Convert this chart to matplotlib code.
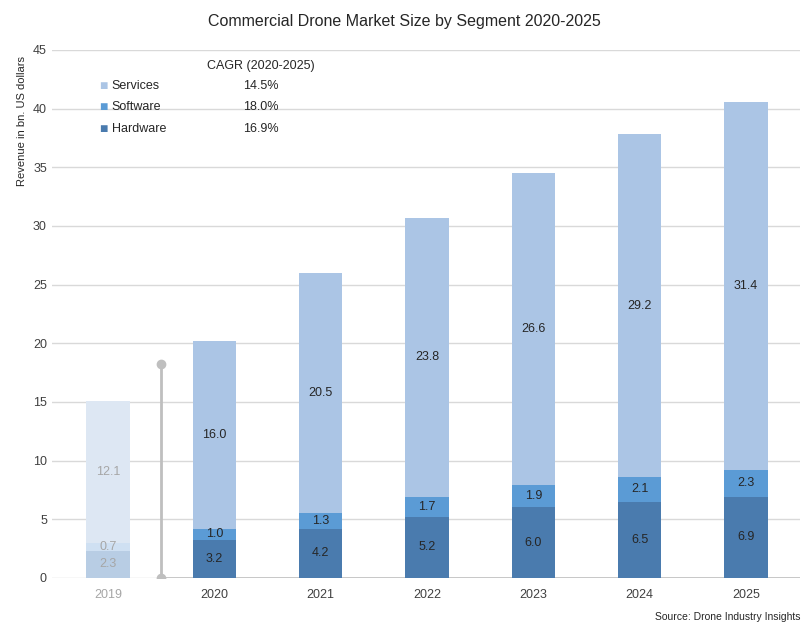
import numpy as np
import matplotlib
matplotlib.use("Agg")
import matplotlib.pyplot as plt

plt.rcParams['font.family'] = ['Liberation Sans', 'DejaVu Sans']

# datos
years = ["2019", "2020", "2021", "2022", "2023", "2024", "2025"]
hardware = [2.3, 3.2, 4.2, 5.2, 6.0, 6.5, 6.9]
software = [0.7, 1.0, 1.3, 1.7, 1.9, 2.1, 2.3]
services = [12.1, 16.0, 20.5, 23.8, 26.6, 29.2, 31.4]
segments = ["Services", "Software", "Hardware"]
cagr = ["14.5%", "18.0%", "16.9%"]

col_hw = "#4a7bae"
col_sw = "#5b9bd5"
col_sv = "#abc5e5"
faded = {"Hardware": "#b8cde4", "Software": "#cfe0f2", "Services": "#dde7f3"}
seg_cols = {"Services": col_sv, "Software": col_sw, "Hardware": col_hw}

fig = plt.figure(figsize=(8.09, 6.24), dpi=100)
ax = fig.add_axes([0.064, 0.074, 0.925, 0.846])

x = np.arange(len(years))
w = 0.41
hw = np.array(hardware)
sw = np.array(software)
sv = np.array(services)

for i in range(len(years)):
    if i == 0:
        c1, c2, c3 = faded["Hardware"], faded["Software"], faded["Services"]
        tc = "#a6a6a6"
    else:
        c1, c2, c3 = col_hw, col_sw, col_sv
        tc = "#262626"
    ax.bar(x[i], hw[i], w, color=c1, zorder=3)
    ax.bar(x[i], sw[i], w, bottom=hw[i], color=c2, zorder=3)
    ax.bar(x[i], sv[i], w, bottom=hw[i] + sw[i], color=c3, zorder=3)
    ax.text(x[i], hw[i] / 2, f"{hw[i]:.1f}", ha='center', va='center', fontsize=9, color=tc, zorder=4)
    ax.text(x[i], hw[i] + sw[i] / 2, f"{sw[i]:.1f}", ha='center', va='center', fontsize=9, color=tc, zorder=4)
    ax.text(x[i], hw[i] + sw[i] + sv[i] / 2, f"{sv[i]:.1f}", ha='center', va='center', fontsize=9, color=tc, zorder=4)

# linea separadora entre 2019 y el pronostico
ax.plot([0.5, 0.5], [0, 18.2], color="#bfbfbf", lw=2, zorder=5, solid_capstyle='butt')
ax.plot([0.5, 0.5], [0, 18.2], 'o', color="#bfbfbf", ms=6, zorder=6)
ax.plot([0.5, 6.51], [0, 0], color="#bfbfbf", lw=1.2, zorder=2)

ax.set_xlim(-0.53, 6.51)
ax.set_ylim(0, 45)
ax.set_yticks(np.arange(0, 46, 5))
ax.set_xticks(x)
ax.set_xticklabels(years)
ax.tick_params(length=0, labelsize=9, colors="#404040")
ax.tick_params(axis='x', pad=8)
ax.get_xticklabels()[0].set_color("#a6a6a6")
ax.grid(axis='y', color="#d9d9d9", lw=1, zorder=0)
for s in ax.spines.values():
    s.set_visible(False)

# leyenda hecha a mano con CAGR
fig.text(0.322, 0.894, "CAGR (2020-2025)", fontsize=9, ha='center', va='center', color="#262626")
ys = [0.862, 0.828, 0.793]
for seg, val, yy in zip(segments, cagr, ys):
    fig.text(0.122, yy, "\u25a0", fontsize=10, color=seg_cols[seg], ha='left', va='center')
    fig.text(0.138, yy, seg, fontsize=9, ha='left', va='center', color="#262626")
    fig.text(0.322, yy, val, fontsize=9, ha='center', va='center', color="#262626")

fig.text(0.027, 0.91, "Revenue in bn. US dollars", rotation=90, fontsize=8, ha='center', va='top', color="#262626")
fig.text(0.5, 0.965, "Commercial Drone Market Size by Segment 2020-2025", fontsize=11.5, ha='center', va='center', color="#262626")
fig.text(0.99, 0.004, "Source: Drone Industry Insights", fontsize=7.5, ha='right', va='bottom', color="#262626")

fig.savefig("out.png", dpi=100)
